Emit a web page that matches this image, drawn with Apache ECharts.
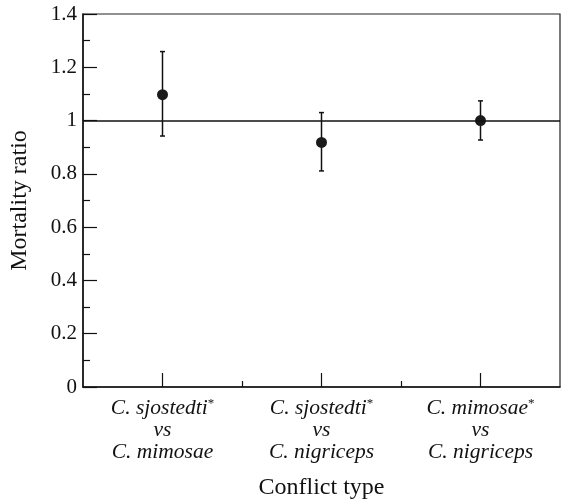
<!DOCTYPE html>
<html>
<head>
<meta charset="utf-8">
<script src="https://cdn.jsdelivr.net/npm/echarts@6/dist/echarts.min.js"></script>
<style>
  html, body { margin: 0; padding: 0; background: #fff; }
  #main { width: 562px; height: 503px; }
</style>
</head>
<body>
<div id="main"></div>
<script>
// conflict types (first species has the asterisk)
var firstSp = ['C. sjostedti', 'C. sjostedti', 'C. mimosae'];
var secondSp = ['C. mimosae', 'C. nigriceps', 'C. nigriceps'];
var xPos = [1, 3, 5];
// mortality ratio and error bars
var means = [1.097, 0.918, 1.0];
var upper = [1.259, 1.030, 1.074];
var lower = [0.942, 0.811, 0.927];
var refLine = 1;

var font = 'Liberation Serif';

var pts = [], bars = [];
for (var i = 0; i < xPos.length; i++) {
    pts.push([xPos[i], means[i]]);
    bars.push([xPos[i], lower[i], upper[i]]);
}

var chart = echarts.init(document.getElementById('main'));
chart.setOption({
    animation: false,
    grid: {
        left: 83, right: 2, top: 14, bottom: 116,
        outerBoundsMode: 'none',
        show: true, borderColor: '#222', borderWidth: 1.2
    },
    xAxis: [{
        type: 'value', min: 0, max: 6,
        position: 'bottom',
        name: 'Conflict type',
        nameLocation: 'middle',
        nameGap: 89,
        nameTextStyle: { fontFamily: font, fontSize: 24, color: '#111' },
        axisLine: { lineStyle: { color: '#111', width: 1.5 } },
        axisTick: { inside: true, length: 14, customValues: xPos, lineStyle: { color: '#111', width: 1.2 } },
        splitLine: { show: false },
        axisLabel: {
            customValues: xPos,
            margin: 10,
            lineHeight: 22,
            formatter: function (v) {
                var k = xPos.indexOf(v);
                return '{it|' + firstSp[k] + '}{sup|*}\n{it|vs}\n{it|' + secondSp[k] + '}';
            },
            rich: {
                it: { fontFamily: font, fontStyle: 'italic', fontSize: 21.5, color: '#111', lineHeight: 22 },
                sup: { fontFamily: font, fontSize: 13, color: '#111', verticalAlign: 'top', lineHeight: 13 }
            }
        }
    }, {
        type: 'value', min: 0, max: 6,
        position: 'bottom', offset: 0,
        axisLine: { show: false },
        axisTick: { inside: true, length: 6, customValues: [2, 4], lineStyle: { color: '#111', width: 1.2 } },
        axisLabel: { show: false },
        splitLine: { show: false }
    }],
    yAxis: {
        type: 'value', min: 0, max: 1.4, interval: 0.2,
        name: 'Mortality ratio',
        nameLocation: 'middle',
        nameGap: 51,
        nameTextStyle: { fontFamily: font, fontSize: 24, color: '#111' },
        axisLine: { show: true, lineStyle: { color: '#111', width: 1.5 } },
        axisTick: { inside: true, length: 14, lineStyle: { color: '#111', width: 1.2 } },
        minorTick: { show: true, splitNumber: 2, length: 7, lineStyle: { color: '#111', width: 1.2 } },
        splitLine: { show: false },
        axisLabel: { fontFamily: font, fontSize: 21, color: '#111', margin: 6 }
    },
    series: [{
        type: 'custom',
        data: bars,
        z: 3,
        renderItem: function (params, api) {
            var x = api.value(0);
            var lo = api.coord([x, api.value(1)]);
            var hi = api.coord([x, api.value(2)]);
            var w = 2.5;
            var st = { stroke: '#111', lineWidth: 1.5 };
            return {
                type: 'group',
                children: [
                    { type: 'line', shape: { x1: lo[0], y1: lo[1], x2: hi[0], y2: hi[1] }, style: st },
                    { type: 'line', shape: { x1: lo[0] - w, y1: lo[1], x2: lo[0] + w, y2: lo[1] }, style: st },
                    { type: 'line', shape: { x1: hi[0] - w, y1: hi[1], x2: hi[0] + w, y2: hi[1] }, style: st }
                ]
            };
        }
    }, {
        type: 'scatter',
        data: pts,
        symbol: 'circle',
        symbolSize: 11,
        z: 4,
        itemStyle: { color: '#1a1a1a', opacity: 1 },
        markLine: {
            silent: true,
            symbol: 'none',
            label: { show: false },
            lineStyle: { color: '#111', width: 1.5, type: 'solid' },
            data: [{ yAxis: refLine }]
        }
    }]
});
</script>
</body>
</html>
